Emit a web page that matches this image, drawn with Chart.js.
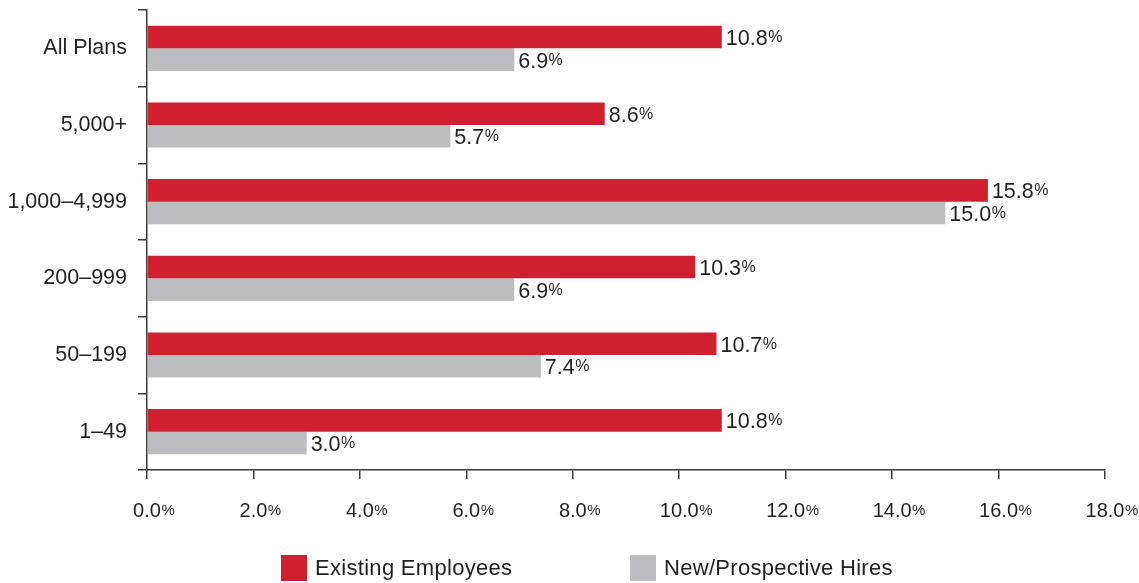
<!DOCTYPE html>
<html><head><meta charset="utf-8">
<script src="https://cdn.jsdelivr.net/npm/chart.js@4/dist/chart.umd.min.js"></script>
<style>
html,body{margin:0;padding:0;background:#fff;}
#wrap{position:relative;width:1139px;height:583px;overflow:hidden;}
canvas{position:absolute;left:0;top:0;}
.leg{position:absolute;top:555px;height:26px;display:flex;align-items:center;font-family:"Liberation Sans",Arial,sans-serif;font-size:22px;letter-spacing:0.3px;color:#231f20;white-space:nowrap;}
.leg .box{width:26px;height:26px;margin-right:8px;display:inline-block;}
</style></head>
<body><div id="wrap"><canvas id="c" width="1139" height="583"></canvas>
<div class="leg" id="leg0" style="left:281px"></div>
<div class="leg" id="leg1" style="left:630px"></div>
</div>
<script>
const categories = ['All Plans', '5,000+', '1,000\u20134,999', '200\u2013999', '50\u2013199', '1\u201349'];
const seriesNames = ['Existing Employees', 'New/Prospective Hires'];
const existingEmployees = [10.8, 8.6, 15.8, 10.3, 10.7, 10.8];
const newProspectiveHires = [6.9, 5.7, 15.0, 6.9, 7.4, 3.0];
const xTickValues = [0, 2, 4, 6, 8, 10, 12, 14, 16, 18];
const xTickLabels = ['0.0', '2.0', '4.0', '6.0', '8.0', '10.0', '12.0', '14.0', '16.0', '18.0'];

const RED = '#d01f2f';
const GREY = '#bcbdc1';
const TEXT = '#231f20';
const AXIS = '#3c3c3c';
const FAMILY = '"Liberation Sans", Arial, sans-serif';

function drawPct(ctx, num, x, baseline, size, pctSize, raise, centerNum) {
  ctx.save();
  ctx.fillStyle = TEXT;
  ctx.textBaseline = 'alphabetic';
  ctx.textAlign = 'left';
  ctx.font = size + 'px ' + FAMILY;
  const w = ctx.measureText(num).width;
  const sx = centerNum ? x - w / 2 : x;
  ctx.fillText(num, sx, baseline);
  ctx.font = pctSize + 'px ' + FAMILY;
  ctx.fillText('%', sx + w + 0.5, baseline - raise);
  ctx.restore();
}

const labelPlugin = {
  id: 'labels',
  afterDraw(chart) {
    const ctx = chart.ctx;
    const xs = chart.scales.x;
    xTickValues.forEach((v, i) => {
      drawPct(ctx, xTickLabels[i], xs.getPixelForValue(v), 517, 20, 15, 2.5, true);
    });
    chart.data.datasets.forEach((ds, di) => {
      const meta = chart.getDatasetMeta(di);
      meta.data.forEach((el, i) => {
        drawPct(ctx, ds.data[i].toFixed(1), el.x + 4, el.y + 8, 21.5, 16, 3, false);
      });
    });
  }
};

const colors = [RED, GREY];
const chart = new Chart(document.getElementById('c'), {
  type: 'bar',
  data: {
    labels: categories,
    datasets: [
      { label: seriesNames[0], data: existingEmployees, backgroundColor: RED },
      { label: seriesNames[1], data: newProspectiveHires, backgroundColor: GREY }
    ]
  },
  options: {
    indexAxis: 'y',
    responsive: false,
    animation: false,
    devicePixelRatio: 1,
    datasets: { bar: { categoryPercentage: 0.59, barPercentage: 1.0, borderWidth: 0 } },
    layout: { padding: { top: 10, right: 34, left: 0, bottom: 0 } },
    plugins: { legend: { display: false }, tooltip: { enabled: false } },
    scales: {
      x: {
        min: 0, max: 18,
        ticks: { stepSize: 2, display: false },
        grid: { drawOnChartArea: false, drawTicks: true, tickLength: 9, color: AXIS, lineWidth: 1.5 },
        border: { color: AXIS, width: 1.5 },
        afterFit(s) { s.height = 113; s.paddingLeft = 0; s.paddingRight = 0; }
      },
      y: {
        ticks: { color: TEXT, font: { family: FAMILY, size: 21.5 }, padding: 11 },
        grid: { drawOnChartArea: false, drawTicks: true, tickLength: 9, color: AXIS, lineWidth: 1.5, offset: true },
        border: { color: AXIS, width: 1.5 },
        afterFit(s) { s.width = 147; s.paddingTop = 0; s.paddingBottom = 0; }
      }
    }
  },
  plugins: [labelPlugin]
});

chart.data.datasets.forEach((ds, i) => {
  const el = document.getElementById('leg' + i);
  const b = document.createElement('span');
  b.className = 'box';
  b.style.background = colors[i];
  el.appendChild(b);
  el.appendChild(document.createTextNode(ds.label));
});
</script>
</body></html>
